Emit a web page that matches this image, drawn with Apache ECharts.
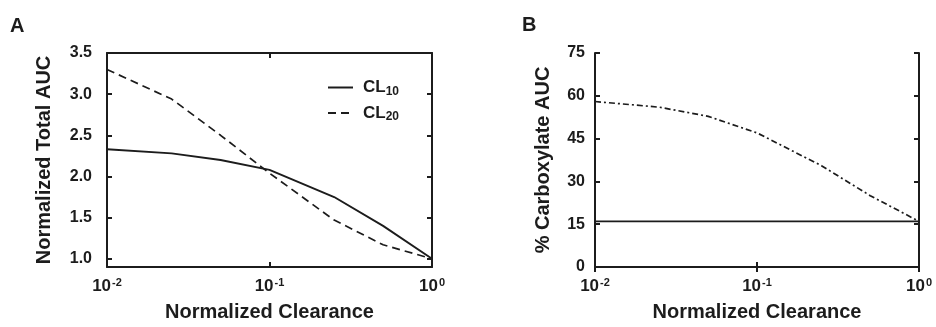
<!DOCTYPE html>
<html>
<head>
<meta charset="utf-8">
<script src="https://cdn.jsdelivr.net/npm/echarts@6/dist/echarts.min.js"></script>
<style>
  html, body { margin: 0; padding: 0; background: #fff; }
  #chart { width: 936px; height: 327px; }
</style>
</head>
<body>
<div id="chart"></div>
<script>
// Normalized clearance grid shared by both panels
const clearance = [0.01, 0.025, 0.05, 0.1, 0.25, 0.5, 1];

// Panel A: normalized total AUC
const aucCL10 = [2.33, 2.28, 2.20, 2.08, 1.75, 1.40, 1.00];
const aucCL20 = [3.30, 2.94, 2.50, 2.04, 1.47, 1.17, 1.00];
const aucTicks = [1.0, 1.5, 2.0, 2.5, 3.0, 3.5];

// Panel B: % carboxylate AUC
const carbCL10 = [16, 16, 16, 16, 16, 16, 16];
const carbCL20 = [58, 56, 52.8, 47, 35.5, 25, 16];
const carbTicks = [0, 15, 30, 45, 60, 75];

const seriesNames = ['CL10', 'CL20'];

const ink = '#1c1c1c';
const font = 'Liberation Sans, Arial, sans-serif';

const pairs = (xs, ys) => xs.map((x, i) => [x, ys[i]]);

const grids = [
  { left: 107, top: 53, width: 325, height: 216 },
  { left: 595, top: 53, width: 324, height: 216 }
];

function logX(gridIndex, bottom) {
  return {
    type: 'log', logBase: 10, gridIndex: gridIndex,
    min: 0.01, max: 1,
    position: bottom ? 'bottom' : 'top',
    name: bottom ? 'Normalized Clearance' : '',
    nameLocation: 'middle', nameGap: 35,
    nameTextStyle: { fontFamily: font, fontWeight: 'bold', fontSize: 20, color: ink },
    axisLine: { show: true, lineStyle: { color: ink, width: 2 } },
    axisTick: { show: true, inside: true, length: 5, lineStyle: { color: ink, width: 2 } },
    minorTick: { show: false },
    splitLine: { show: false },
    axisLabel: {
      show: bottom, margin: 10,
      formatter: v => {
        const e = Math.round(Math.log10(v));
        return '10{s|' + (e === 0 ? '0' : '-' + Math.abs(e)) + '}';
      },
      fontFamily: font, fontWeight: 'bold', fontSize: 17, color: ink,
      rich: {
        s: { fontFamily: font, fontWeight: 'bold', fontSize: 11, color: ink, verticalAlign: 'top', padding: [0, 0, 8, 1] }
      }
    }
  };
}

function valY(gridIndex, left, min, max, ticks, name, margin, gap) {
  return {
    type: 'value', gridIndex: gridIndex,
    min: min, max: max,
    position: left ? 'left' : 'right',
    name: left ? name : '',
    nameLocation: 'middle', nameGap: gap,
    nameTextStyle: { fontFamily: font, fontWeight: 'bold', fontSize: 20, color: ink },
    axisLine: { show: true, onZero: false, lineStyle: { color: ink, width: 2 } },
    axisTick: { show: true, inside: true, length: 5, customValues: ticks, lineStyle: { color: ink, width: 2 } },
    splitLine: { show: false },
    axisLabel: {
      show: left, customValues: ticks, margin: margin,
      formatter: v => gridIndex === 0 ? v.toFixed(1) : String(v),
      fontFamily: font, fontWeight: 'bold', fontSize: 16, color: ink
    }
  };
}

const chart = echarts.init(document.getElementById('chart'), null, { renderer: 'canvas' });

chart.setOption({
  backgroundColor: '#ffffff',
  animation: false,
  title: [
    { text: 'A', left: 5, top: 11, textStyle: { fontFamily: font, fontWeight: 'bold', fontSize: 20, color: ink } },
    { text: 'B', left: 517, top: 10, textStyle: { fontFamily: font, fontWeight: 'bold', fontSize: 20, color: ink } }
  ],
  legend: {
    data: seriesNames,
    left: 322, top: 74, orient: 'vertical',
    itemWidth: 25, itemHeight: 16, itemGap: 7,
    itemStyle: { opacity: 0 },
    formatter: n => 'CL{sub|' + n.slice(2) + '}',
    textStyle: {
      fontFamily: font, fontWeight: 'bold', fontSize: 17, color: ink, padding: [0, 0, 0, 5],
      rich: { sub: { fontFamily: font, fontWeight: 'bold', fontSize: 12, color: ink, verticalAlign: 'bottom', padding: [8, 0, 0, 0] } }
    }
  },
  grid: grids,
  xAxis: [logX(0, true), logX(0, false), logX(1, true), logX(1, false)],
  yAxis: [
    valY(0, true, 0.9, 3.5, aucTicks, 'Normalized Total AUC', 15, 53),
    valY(0, false, 0.9, 3.5, aucTicks, '', 0, 0),
    valY(1, true, 0, 75, carbTicks, '% Carboxylate AUC', 10, 42),
    valY(1, false, 0, 75, carbTicks, '', 0, 0)
  ],
  series: [
    { name: 'CL10', type: 'line', xAxisIndex: 0, yAxisIndex: 0, data: pairs(clearance, aucCL10),
      symbol: 'none', lineStyle: { color: ink, width: 1.9, type: 'solid' }, itemStyle: { color: ink } },
    { name: 'CL20', type: 'line', xAxisIndex: 0, yAxisIndex: 0, data: pairs(clearance, aucCL20),
      symbol: 'none', lineStyle: { color: ink, width: 1.7, type: [8, 5] }, itemStyle: { color: ink } },
    { name: 'CL10 ', type: 'line', xAxisIndex: 2, yAxisIndex: 2, data: pairs(clearance, carbCL10),
      symbol: 'none', lineStyle: { color: ink, width: 1.9, type: 'solid' }, itemStyle: { color: ink } },
    { name: 'CL20 ', type: 'line', xAxisIndex: 2, yAxisIndex: 2, data: pairs(clearance, carbCL20),
      symbol: 'none', lineStyle: { color: ink, width: 1.7, type: [6, 3, 2, 3] }, itemStyle: { color: ink } }
  ]
});
</script>
</body>
</html>
